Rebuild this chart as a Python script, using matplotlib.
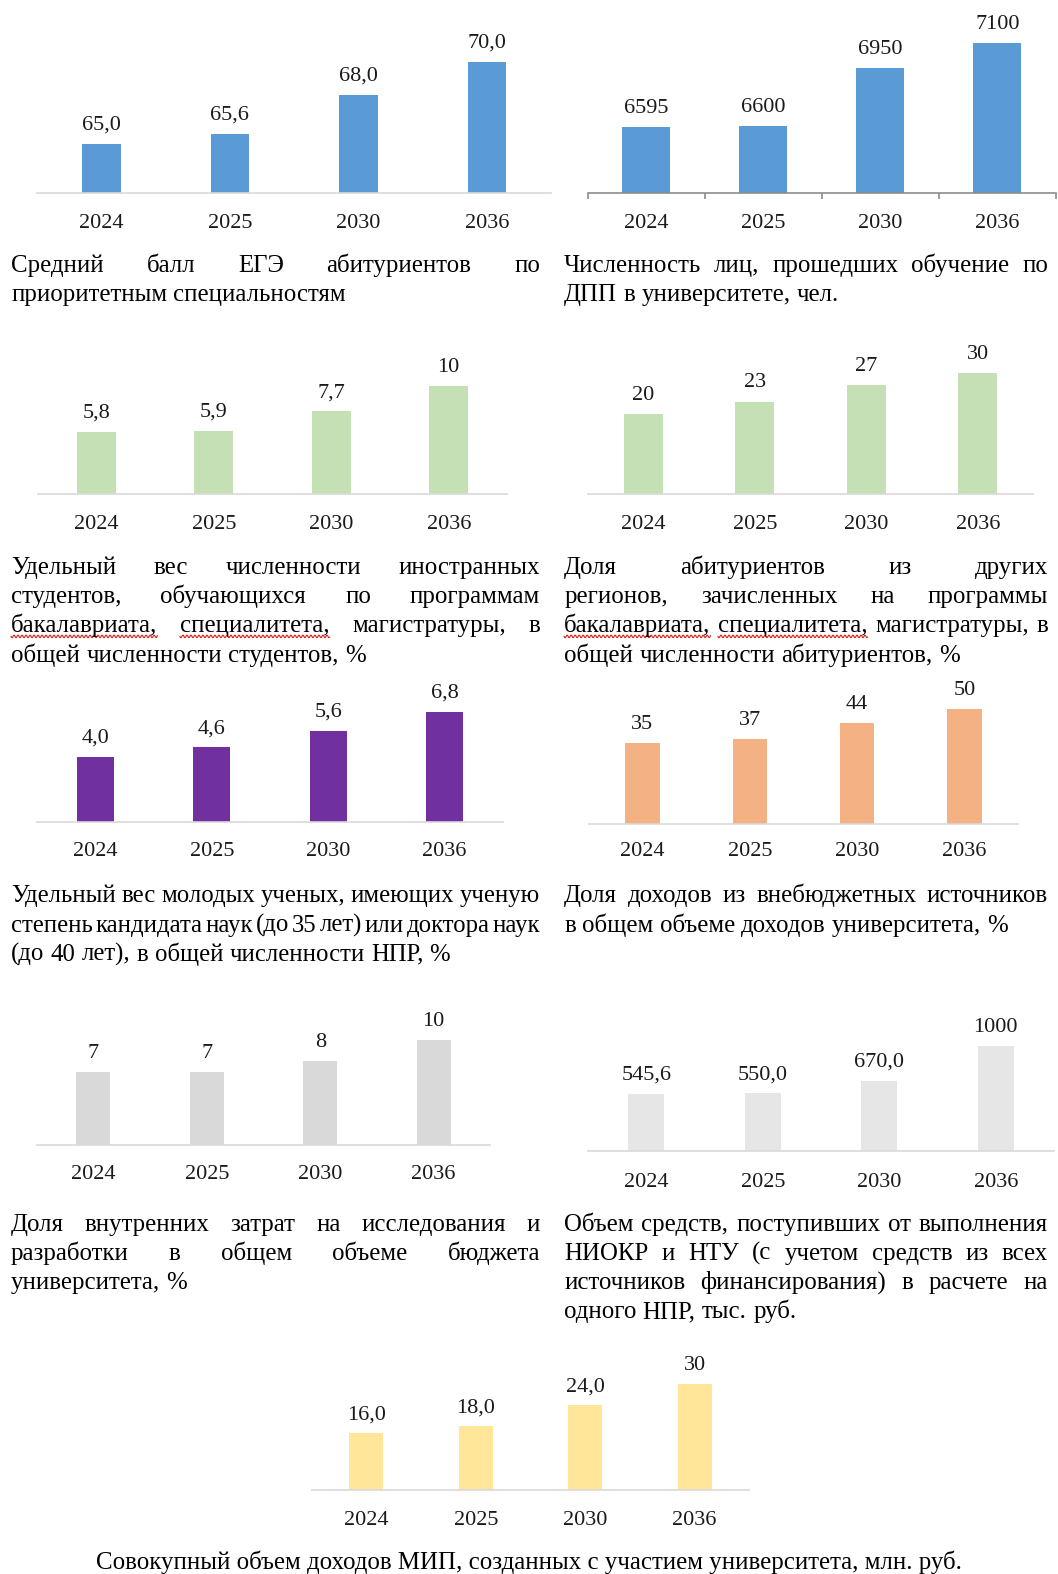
import numpy as np
import matplotlib
matplotlib.use('Agg')
import matplotlib.pyplot as plt

# ---- data ----
years = ['2024', '2025', '2030', '2036']

ege_score = [65.0, 65.6, 68.0, 70.0]
ege_labels = ['65,0', '65,6', '68,0', '70,0']

dpp_people = [6595, 6600, 6950, 7100]
dpp_labels = ['6595', '6600', '6950', '7100']

foreign_share = [5.8, 5.9, 7.7, 10]
foreign_labels = ['5,8', '5,9', '7,7', '10']

other_regions = [20, 23, 27, 30]
other_labels = ['20', '23', '27', '30']

young_sci = [4.0, 4.6, 5.6, 6.8]
young_labels = ['4,0', '4,6', '5,6', '6,8']

offbudget = [35, 37, 44, 50]
offbudget_labels = ['35', '37', '44', '50']

rnd_share = [7, 7, 8, 10]
rnd_labels = ['7', '7', '8', '10']

niokr = [545.6, 550.0, 670.0, 1000]
niokr_labels = ['545,6', '550,0', '670,0', '1000']

mip = [16.0, 18.0, 24.0, 30]
mip_labels = ['16,0', '18,0', '24,0', '30']

cap1 = ["Средний балл ЕГЭ абитуриентов по", "приоритетным специальностям"]
cap2 = ["Численность лиц, прошедших обучение по", "ДПП в университете, чел."]
cap3 = ["Удельный вес численности иностранных",
        "студентов, обучающихся по программам",
        "бакалавриата, специалитета, магистратуры, в",
        "общей численности студентов, %"]
cap4 = ["Доля абитуриентов из других",
        "регионов, зачисленных на программы",
        "бакалавриата, специалитета, магистратуры, в",
        "общей численности абитуриентов, %"]
cap5 = ["Удельный вес молодых ученых, имеющих ученую",
        "степень кандидата наук (до 35 лет) или доктора наук",
        "(до 40 лет), в общей численности НПР, %"]
cap6 = ["Доля доходов из внебюджетных источников",
        "в общем объеме доходов университета, %"]
cap7 = ["Доля внутренних затрат на исследования и",
        "разработки в общем объеме бюджета",
        "университета, %"]
cap8 = ["Объем средств, поступивших от выполнения",
        "НИОКР и НТУ (с учетом средств из всех",
        "источников финансирования) в расчете на",
        "одного НПР, тыс. руб."]
cap9 = "Совокупный объем доходов МИП, созданных с участием университета, млн. руб."

# ---- layout (reference coords 1054x1568) ----
W0, H0 = 1054.0, 1568.0
S = 1058.0 / W0
SERIF = 'Liberation Serif'
TXT = '#1a1a1a'
NUM_FS = 16
YEAR_FS = 16

fig = plt.figure(figsize=(10.58, 15.74), dpi=100)
fig.patch.set_facecolor('white')
rend = fig.canvas.get_renderer()


def fx(x):
    return x / W0


def fy(y):
    return 1 - y / H0


def text_w(s, size):
    t = fig.text(0, 0, s, fontsize=size, family=SERIF)
    w = t.get_window_extent(renderer=rend).width
    t.remove()
    return w


def panel(x0, x1, base, ymin, ppu, vals, labels, color, bw,
          axcol='#D9D9D9', ticks=False, pad=35):
    h = 170
    ax = fig.add_axes([fx(x0), fy(base), (x1 - x0) / W0, h / H0])
    ax.patch.set_alpha(0)
    x = np.arange(len(vals))
    ax.bar(x, vals, width=bw, color=color)
    ax.set_xlim(-0.5, len(vals) - 0.5)
    ax.set_ylim(ymin, ymin + h / ppu)
    for s in ['top', 'left', 'right']:
        ax.spines[s].set_visible(False)
    ax.spines['bottom'].set_color(axcol)
    ax.spines['bottom'].set_linewidth(1.2)
    ax.set_yticks([])
    if ticks:
        ax.set_xticks(np.arange(-0.5, len(vals), 1))
        ax.tick_params(axis='x', length=4, width=1.2, color=axcol,
                       direction='out', labelbottom=False)
    else:
        ax.set_xticks([])
    for i, (v, lab) in enumerate(zip(vals, labels)):
        ax.annotate(lab, (i, v), xytext=(0, 14 * S), textcoords='offset pixels',
                    ha='center', va='baseline', fontsize=NUM_FS, family=SERIF,
                    color=TXT)
        ax.annotate(years[i], (i, ymin), xytext=(0, -pad * S),
                    textcoords='offset pixels', ha='center', va='baseline',
                    fontsize=YEAR_FS, family=SERIF, color=TXT)
    return ax


# caption font size from the natural width of a left-aligned line
CAP_FS = 10 * 334 * S / text_w("приоритетным специальностям", 10)


def wavy(xa, xb, yb):
    xs = np.linspace(xa, xb, int(max(xb - xa, 2)) * 2)
    ys = yb - 4 * S - 1.3 * np.sin((xs - xa) * 2 * np.pi / 4.0)
    fig.add_artist(plt.Line2D(xs / 1058.0, ys / 1574.0, color='#E0201B',
                              lw=0.8))


def caption(lines, x0, x1, y_first, step=29, mark=()):
    width = (x1 - x0) * S
    size = CAP_FS
    for ln in lines[:-1]:
        words = ln.split()
        need = sum(text_w(w, size) for w in words) + 0.12 * size * 100 / 72 * (len(words) - 1)
        if need > width:
            size = size * width / need
    for k, ln in enumerate(lines):
        words = ln.split()
        ws = [text_w(w, size) for w in words]
        if k < len(lines) - 1 and len(words) > 1:
            gap = (width - sum(ws)) / (len(words) - 1)
        else:
            gap = text_w('a b', size) - text_w('ab', size)
        xp = x0 * S
        yb = 1574.0 - (y_first + k * step + 7) * S
        for w, ww in zip(words, ws):
            fig.text(xp / 1058.0, yb / 1574.0, w, fontsize=size, family=SERIF,
                     color='black', ha='left', va='baseline')
            if w in mark:
                wavy(xp, xp + ww, yb)
            xp += ww + gap


# ---- panels ----
panel(37, 549, 192, 62, 16.3, ege_score, ege_labels, '#5B9BD5', 0.30)
panel(585.7, 1052, 192, 6200, 0.166, dpp_people, dpp_labels, '#5B9BD5', 0.41,
      axcol='#8C8C8C', ticks=True)
panel(37.5, 505.5, 492, 0, 10.7, foreign_share, foreign_labels, '#C5E0B4', 0.33)
panel(585.5, 1029.5, 492, 0, 4.0, other_regions, other_labels, '#C5E0B4', 0.35)
panel(37, 501, 819, 0, 16.2, young_sci, young_labels, '#7030A0', 0.32, pad=34)
panel(586.5, 1014.5, 821, 0, 2.3, offbudget, offbudget_labels, '#F4B183', 0.32, pad=32)
panel(36.5, 488.5, 1141, 0, 10.5, rnd_share, rnd_labels, '#D9D9D9', 0.30, pad=34)
panel(586, 1050, 1147, 0, 0.105, niokr, niokr_labels, '#E7E6E6', 0.31)
panel(310.5, 746.5, 1484, 0, 3.5, mip, mip_labels, '#FFE699', 0.31)

# ---- captions ----
spell = ("бакалавриата,", "специалитета,")
caption(cap1, 11, 538, 264)
caption(cap2, 562, 1044, 264)
caption(cap3, 11, 538, 565, mark=spell)
caption(cap4, 562, 1044, 565, mark=spell)
caption(cap5, 11, 538, 892)
caption(cap6, 562, 1044, 892)
caption(cap7, 11, 538, 1219)
caption(cap8, 562, 1044, 1219)

fs9 = CAP_FS * min(1.0, 866 * S / text_w(cap9, CAP_FS))
fig.text(fx(527), (1574.0 - (1556 + 7) * S) / 1574.0, cap9, fontsize=fs9,
         family=SERIF, color='black', ha='center', va='baseline')

fig.savefig('out.png', dpi=100, facecolor='white')
